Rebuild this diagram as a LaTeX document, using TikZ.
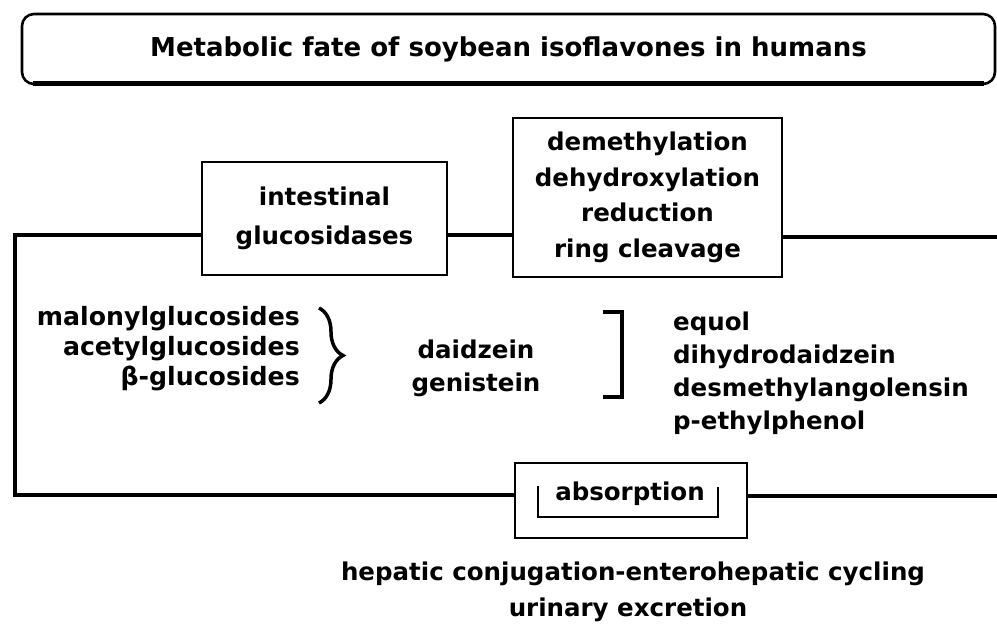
\documentclass[tikz,border=0pt]{standalone}
\usepackage{fontspec}
\setmainfont{DejaVu Sans}[BoldFont={DejaVu Sans Bold}]
\usetikzlibrary{decorations.pathreplacing}
\begin{document}
\begin{tikzpicture}[x=1pt,y=-1pt,
  txt/.style={font=\bfseries\fontsize{24.5}{33}\selectfont, inner sep=0pt},
  boxed/.style={draw, line width=2.6pt, inner sep=0pt},
  link/.style={line width=3.2pt},
]
\useasboundingbox (0,0) rectangle (997,629);
% title
\node[boxed, rounded corners=12pt, minimum width=973pt, minimum height=70pt,
      font=\bfseries\fontsize{26}{30}\selectfont] (title) at (508.5,49) {Metabolic fate of soybean isoflavones in humans};
\draw[line width=5pt] ([xshift=12pt,yshift=1.5pt]title.south west) -- ([xshift=-12pt,yshift=1.5pt]title.south east);
% boxes
\node[boxed, txt, align=center, minimum width=245pt, minimum height=113pt,
      font=\bfseries\fontsize{24.5}{39}\selectfont] (int) at (324.5,218.5) {intestinal\\glucosidases};
\node[boxed, txt, align=center, minimum width=269pt, minimum height=159pt,
      font=\bfseries\fontsize{24.5}{35.5}\selectfont] (dem) at (647.5,197.5) {demethylation\\dehydroxylation\\reduction\\ring cleavage};
\node[boxed, minimum width=232pt, minimum height=75pt] (abs) at (631,500.5) {};
\node[txt] (abstxt) at (630,494) {absorption};
\draw[line width=2.6pt] (538,486) -- (538,517) -- (718,517) -- (718,487);
% loop lines
\coordinate (lt) at (15,235);
\coordinate (lb) at (15,495);
\coordinate (re1) at (997,237);
\coordinate (re2) at (997,496);
\draw[link] ([yshift=-16.5pt]int.west) -- (lt) -- (lb) -- (lb -| abs.west);
\draw[link] ([yshift=-16.5pt]int.east) -- ([yshift=-16.5pt]int.east -| dem.west);
\draw[link] (re1 -| dem.east) -- (re1);
\draw[link] (re2 -| abs.east) -- (re2);
% lists
\node[txt, align=right, anchor=east, font=\bfseries\fontsize{25.2}{30}\selectfont] (left) at (300,349) {malonylglucosides\\acetylglucosides\\β-glucosides};
\draw[line width=3.5pt, decorate, decoration={brace, amplitude=24pt}] (319,308) -- (319,403);
\node[txt, align=center] (mid) at (476,368) {daidzein\\genistein};
\draw[line width=4.5pt] (603,312) -- (622,312) -- (622,397) -- (603,397);
\node[txt, align=left, anchor=west] (right) at (673,373) {equol\\dihydrodaidzein\\desmethylangolensin\\p-ethylphenol};
% bottom
\node[txt] (hep) at (633,574) {hepatic conjugation-enterohepatic cycling};
\node[txt] (uri) at (628,610) {urinary excretion};
\end{tikzpicture}
\end{document}
